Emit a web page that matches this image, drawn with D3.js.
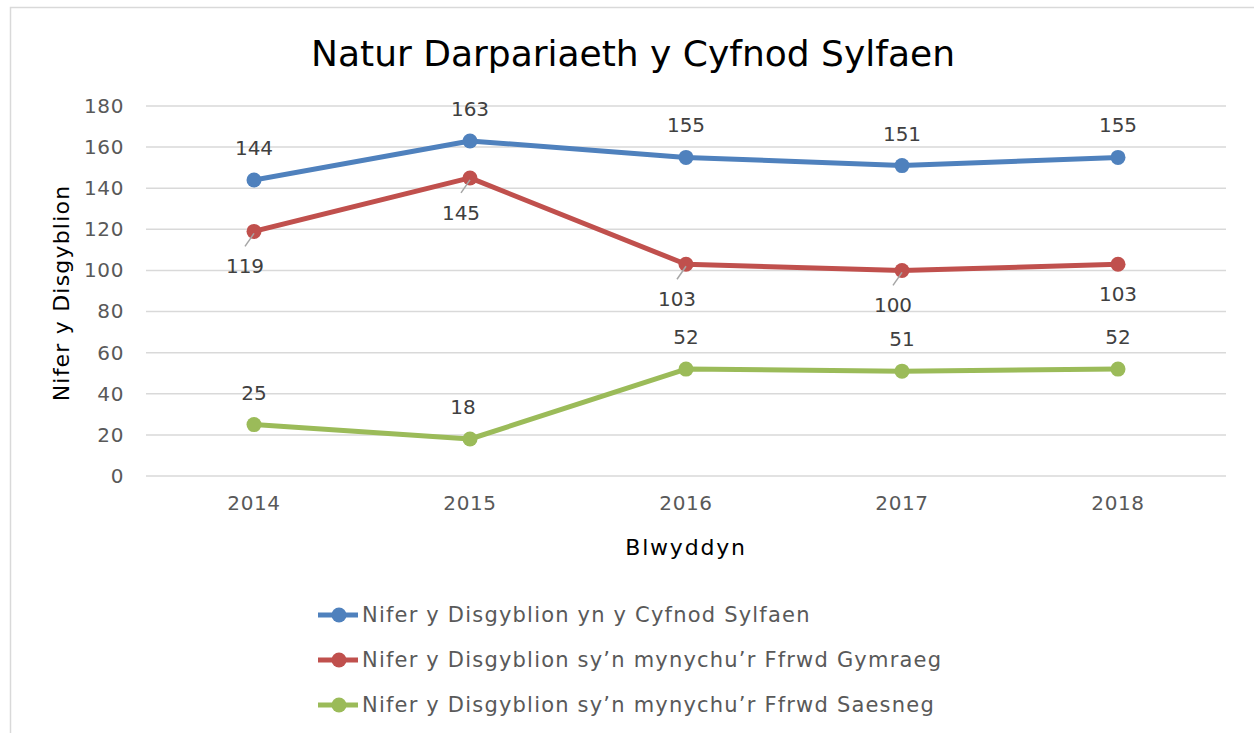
<!DOCTYPE html>
<html>
<head>
<meta charset="utf-8">
<script src="https://cdn.jsdelivr.net/npm/d3@7"></script>
<style>
  body { margin: 0; background: #fff; }
  text { font-family: "DejaVu Sans", sans-serif; }
</style>
</head>
<body>
<div class="chart"></div>
<script>
var svgWidth = 1254;
var svgHeight = 733;

// data
var years = ["2014", "2015", "2016", "2017", "2018"];
var seriesNames = [
  "Nifer y Disgyblion yn y Cyfnod Sylfaen",
  "Nifer y Disgyblion sy\u2019n mynychu\u2019r Ffrwd Gymraeg",
  "Nifer y Disgyblion sy\u2019n mynychu\u2019r Ffrwd Saesneg"
];
var totalPupils = [144, 163, 155, 151, 155];
var welshStream = [119, 145, 103, 100, 103];
var englishStream = [25, 18, 52, 51, 52];
var yTicks = [0, 20, 40, 60, 80, 100, 120, 140, 160, 180];
var colors = ["#4F81BD", "#C0504D", "#9BBB59"];

var margin = { top: 106, right: 28, bottom: 257, left: 146 };
var width = svgWidth - margin.left - margin.right;
var height = svgHeight - margin.top - margin.bottom;

var svg = d3.select(".chart")
  .append("svg")
  .attr("width", svgWidth)
  .attr("height", svgHeight);

// chart frame
svg.append("rect")
  .attr("x", 10.5)
  .attr("y", 7.5)
  .attr("width", 1300)
  .attr("height", 800)
  .attr("fill", "none")
  .attr("stroke", "#d9d9d9")
  .attr("stroke-width", 1.5);

svg.append("text")
  .attr("x", 633)
  .attr("y", 66)
  .attr("text-anchor", "middle")
  .attr("font-size", "36px")
  .attr("fill", "#000")
  .text("Natur Darpariaeth y Cyfnod Sylfaen");

var chartGroup = svg.append("g")
  .attr("transform", `translate(${margin.left}, ${margin.top})`);

var xScale = d3.scaleBand()
  .domain(years)
  .range([0, width]);

var yScale = d3.scaleLinear()
  .domain([0, 180])
  .range([height, 0]);

// gridlines
chartGroup.selectAll(".grid")
  .data(yTicks)
  .enter()
  .append("line")
  .attr("x1", 0)
  .attr("x2", width)
  .attr("y1", d => yScale(d))
  .attr("y2", d => yScale(d))
  .attr("stroke", "#d9d9d9")
  .attr("stroke-width", 1.5);

var leftAxis = d3.axisLeft(yScale).tickValues(yTicks).tickSize(0).tickPadding(22);
var bottomAxis = d3.axisBottom(xScale).tickSize(0).tickPadding(20);

var yAxisG = chartGroup.append("g").call(leftAxis);
var xAxisG = chartGroup.append("g")
  .attr("transform", `translate(0, ${height})`)
  .call(bottomAxis);

[yAxisG, xAxisG].forEach(function (g) {
  g.select(".domain").remove();
  g.selectAll("text")
    .attr("font-family", "DejaVu Sans, sans-serif")
    .attr("font-size", "20px")
    .attr("letter-spacing", "0.6px")
    .attr("fill", "#595959");
});

chartGroup.append("text")
  .attr("transform", "rotate(-90)")
  .attr("x", -height / 2 - 2)
  .attr("y", -77)
  .attr("text-anchor", "middle")
  .attr("font-size", "22px")
  .attr("letter-spacing", "1.2px")
  .attr("fill", "#000")
  .text("Nifer y Disgyblion");

chartGroup.append("text")
  .attr("x", width / 2)
  .attr("y", height + 79)
  .attr("text-anchor", "middle")
  .attr("font-size", "22px")
  .attr("letter-spacing", "1.8px")
  .attr("fill", "#000")
  .text("Blwyddyn");

var series = [totalPupils, welshStream, englishStream];
var cx = d => xScale(d.year) + xScale.bandwidth() / 2;

var line = d3.line()
  .x(cx)
  .y(d => yScale(d.value));

series.forEach(function (vals, i) {
  var pts = vals.map((v, j) => ({ year: years[j], value: v, idx: j }));

  chartGroup.append("path")
    .datum(pts)
    .attr("d", line)
    .attr("fill", "none")
    .attr("stroke", colors[i])
    .attr("stroke-width", 5)
    .attr("stroke-linejoin", "round");

  chartGroup.selectAll(".pt" + i)
    .data(pts)
    .enter()
    .append("circle")
    .attr("cx", cx)
    .attr("cy", d => yScale(d.value))
    .attr("r", 7.5)
    .attr("fill", colors[i]);

  // red labels sit below with short leader lines, others above
  if (i === 1) {
    var lead = pts.filter(d => d.idx < 4);
    chartGroup.selectAll(".lead" + i)
      .data(lead)
      .enter()
      .append("line")
      .attr("x1", d => cx(d))
      .attr("y1", d => yScale(d.value) + 2)
      .attr("x2", d => cx(d) - 9)
      .attr("y2", d => yScale(d.value) + 15)
      .attr("stroke", "#a6a6a6")
      .attr("stroke-width", 1.5);
  }

  chartGroup.selectAll(".lbl" + i)
    .data(pts)
    .enter()
    .append("text")
    .attr("x", d => (i === 1 && d.idx < 4) ? cx(d) - 9 : (i === 2 && d.idx === 1 ? cx(d) - 7 : cx(d)))
    .attr("y", d => yScale(d.value) + (i === 1 ? (d.idx < 4 ? 42 : 37) : -25))
    .attr("text-anchor", "middle")
    .attr("font-size", "20px")
    .attr("fill", "#404040")
    .text(d => d.value);
});

// legend
var legend = svg.append("g")
  .attr("transform", "translate(318, 615)");

seriesNames.forEach(function (name, i) {
  var row = legend.append("g")
    .attr("transform", `translate(0, ${i * 45})`);
  row.append("line")
    .attr("x1", 0).attr("x2", 40)
    .attr("y1", 0).attr("y2", 0)
    .attr("stroke", colors[i])
    .attr("stroke-width", 5);
  row.append("circle")
    .attr("cx", 21).attr("cy", 0).attr("r", 7.5)
    .attr("fill", colors[i]);
  row.append("text")
    .attr("x", 44)
    .attr("y", 7)
    .attr("font-size", "21px")
    .attr("letter-spacing", "1.2px")
    .attr("fill", "#595959")
    .text(name);
});
</script>
</body>
</html>
